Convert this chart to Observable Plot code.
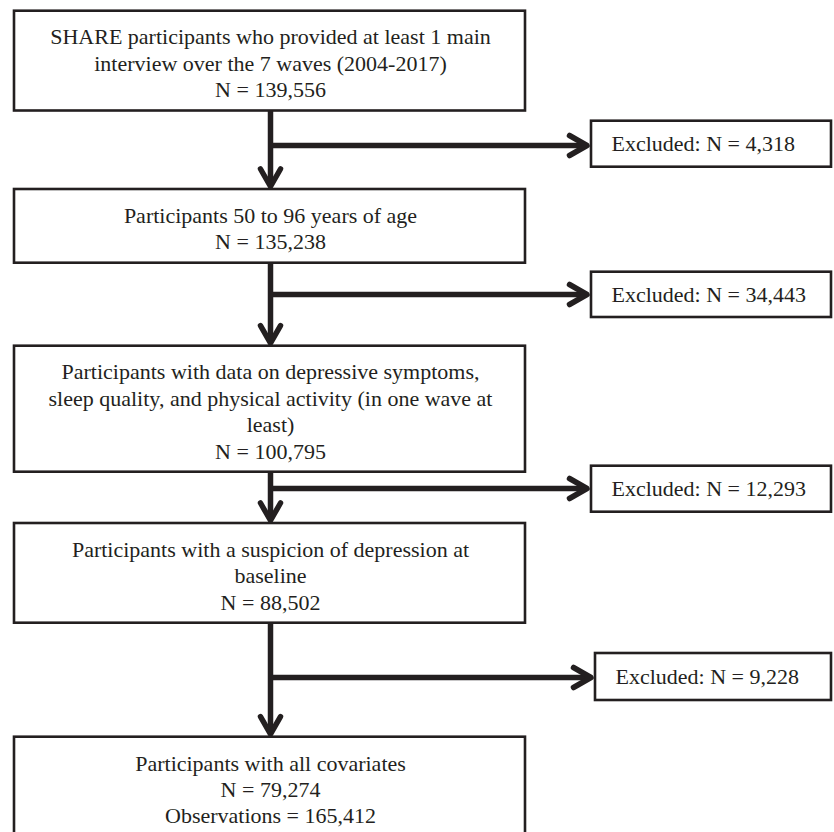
<!DOCTYPE html>
<html><head><meta charset="utf-8">
<script src="https://cdn.jsdelivr.net/npm/d3@7"></script>
<script src="https://cdn.jsdelivr.net/npm/@observablehq/plot@0.6"></script>
<style>html,body{margin:0;padding:0;background:#fff;} svg{display:block;}</style>
</head><body><div id="chart"></div>
<script>
// ---- data ----
const stageLabels = [
  "SHARE participants who provided at least 1 main\ninterview over the 7 waves (2004-2017)",
  "Participants 50 to 96 years of age",
  "Participants with data on depressive symptoms,\nsleep quality, and physical activity (in one wave at\nleast)",
  "Participants with a suspicion of depression at\nbaseline",
  "Participants with all covariates"
];
const stageN = [139556, 135238, 100795, 88502, 79274];
const excludedN = [4318, 34443, 12293, 9228];
const finalObservations = 165412;

// ---- layout (pixel positions) ----
const boxX = [14, 525];
const boxTop = [10.7, 189, 345.7, 523, 736.7];
const boxBottom = [110.5, 262.7, 471.7, 622.7, 850];
const textY = [61.7, 227, 410, 574.5, 788];
const exclLeft = [591, 591, 591, 595];
const exclRight = 831;
const exclTop = [120.7, 271.7, 465.7, 653];
const exclBottom = [166.7, 317, 511.7, 700];
const branchY = [145, 294, 488, 677];
const spineX = 270;

const ink = "#231f20";
const fmt = d3.format(",");

const stages = stageLabels.map((label, i) => ({
  label: label + "\nN = " + fmt(stageN[i]) + (i === stageLabels.length - 1 ? "\nObservations = " + fmt(finalObservations) : ""),
  x1: boxX[0], x2: boxX[1], y1: boxTop[i], y2: boxBottom[i], ty: textY[i]
}));
const excl = excludedN.map((n, i) => ({
  label: "Excluded: N = " + fmt(n),
  x1: exclLeft[i], x2: exclRight, y1: exclTop[i], y2: exclBottom[i], ty: (exclTop[i] + exclBottom[i]) / 2
}));
const downLinks = boxBottom.slice(0, -1).map((b, i) => ({x: spineX, y1: b, y2: boxTop[i + 1] - 5}));
const sideLinks = branchY.map((y, i) => ({x1: spineX, x2: exclLeft[i] - 8, y}));
const heads = [
  ...boxTop.slice(1).map(t => ({x: spineX, y: t - 3, rot: 0})),
  ...branchY.map((y, i) => ({x: exclLeft[i] - 4.5, y, rot: -90}))
];

// chevron symbol, tip at origin, opening upward (pointing down)
const chevron = {
  draw(ctx, size) {
    ctx.moveTo(-10, -17.5);
    ctx.lineTo(0, 0);
    ctx.lineTo(10, -17.5);
  }
};

const chart = Plot.plot({
  width: 834, height: 832, margin: 0,
  x: {domain: [0, 834], axis: null},
  y: {domain: [0, 832], reverse: true, axis: null},
  style: {fontFamily: "'Liberation Serif', 'Times New Roman', serif", background: "#fff", color: ink},
  marks: [
    Plot.link(downLinks, {x1: "x", x2: "x", y1: "y1", y2: "y2", stroke: ink, strokeWidth: 5.5}),
    Plot.link(sideLinks, {x1: "x1", x2: "x2", y1: "y", y2: "y", stroke: ink, strokeWidth: 5.5}),
    Plot.dot(heads, {x: "x", y: "y", rotate: "rot", symbol: chevron, r: 10, fill: "none", stroke: ink, strokeWidth: 5.5, strokeLinejoin: "round", strokeLinecap: "round"}),
    Plot.rect(stages, {x1: "x1", x2: "x2", y1: "y1", y2: "y2", fill: "white", stroke: ink, strokeWidth: 2.6}),
    Plot.rect(excl, {x1: "x1", x2: "x2", y1: "y1", y2: "y2", fill: "white", stroke: ink, strokeWidth: 2.6}),
    Plot.text(stages, {x: spineX, y: "ty", text: "label", fontSize: 22, lineHeight: 1.2, textAnchor: "middle", fill: ink}),
    Plot.text(excl, {x: "x1", y: "ty", dx: 20, text: "label", fontSize: 22, textAnchor: "start", fill: ink})
  ]
});
document.getElementById("chart").appendChild(chart);
</script>
</body></html>
